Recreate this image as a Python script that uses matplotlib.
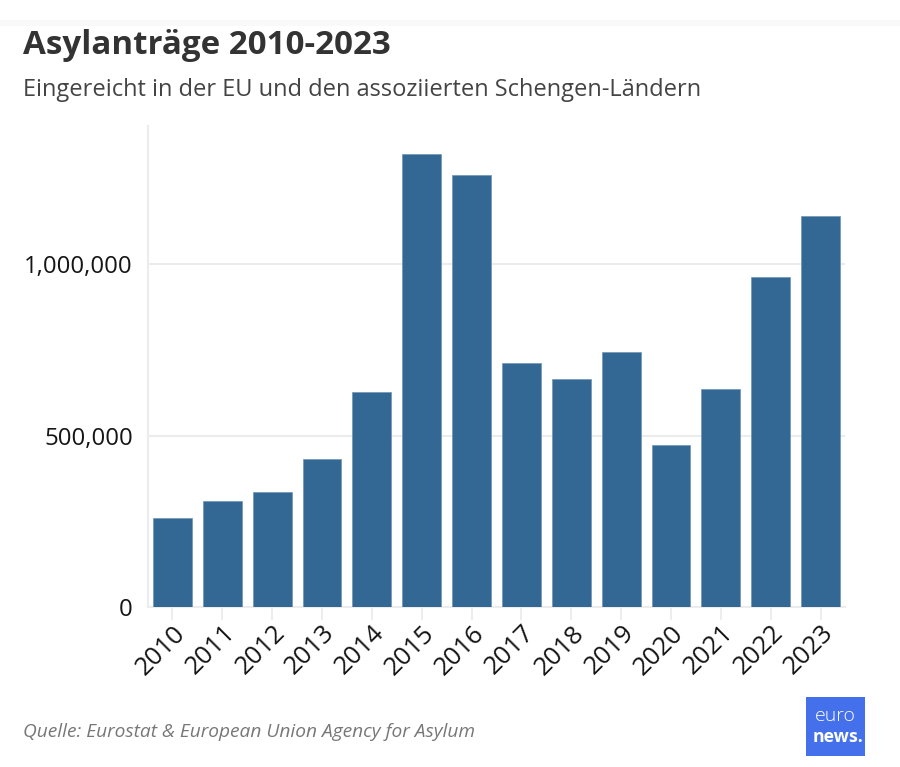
import matplotlib
matplotlib.use('Agg')
import matplotlib.pyplot as plt
from matplotlib.patches import Rectangle
from matplotlib.transforms import ScaledTranslation

years = ['2010', '2011', '2012', '2013', '2014', '2015', '2016',
         '2017', '2018', '2019', '2020', '2021', '2022', '2023']
applications = [260000, 309000, 335000, 431000, 627000, 1321000, 1259000,
                711000, 665000, 743000, 472000, 635000, 962000, 1140000]
y_ticks = [0, 500000, 1000000]
y_tick_labels = ['0', '500,000', '1,000,000']

W, H = 900, 767
plt.rcParams['font.family'] = ['Open Sans', 'DejaVu Sans']

fig = plt.figure(figsize=(W / 100, H / 100), dpi=100)

# plot area in pixels from the reference
left, right, top, bottom = 148, 845, 126, 607
ax = fig.add_axes([left / W, 1 - bottom / H, (right - left) / W, (bottom - top) / H])

ax.bar(range(len(years)), applications, width=0.78, color='#346894',
       edgecolor='#6f95b6', linewidth=0.5, zorder=3)

ax.set_xlim(-0.49, 13.49)
ax.set_ylim(0, (bottom - top) / 343 * 1000000)

ax.set_xticks(range(len(years)))
ax.set_xticklabels(years, rotation=45, ha='right', va='center', rotation_mode='anchor',
                   fontsize=18.5, color='#151515')
ax.set_yticks(y_ticks)
ax.set_yticklabels(y_tick_labels, fontsize=17.3, color='#151515')

ax.tick_params(axis='x', length=9, width=1.3, color='#ececec', pad=5)
ax.tick_params(axis='y', length=0, pad=11)

# nudge rotated year labels so they end just right of their ticks
nudge = ScaledTranslation(9 / 100, -3 / 100, fig.dpi_scale_trans)
for label in ax.get_xticklabels():
    label.set_transform(label.get_transform() + nudge)

ax.grid(axis='y', color='#ececec', linewidth=1.5, zorder=0)
for side in ['top', 'right']:
    ax.spines[side].set_visible(False)
for side in ['left', 'bottom']:
    ax.spines[side].set_color('#ececec')
    ax.spines[side].set_linewidth(1.5)

# faint band from the page header above the title
fig.add_artist(Rectangle((0, 1 - 26 / H), 1, 6 / H, transform=fig.transFigure,
                         facecolor='#f9f9f9', edgecolor='none'))

fig.text(23 / W, 1 - 46 / H, 'Asylanträge 2010-2023', fontsize=23.9, fontweight='bold',
         color='#333333', va='center', ha='left')
fig.text(23 / W, 1 - 90 / H, 'Eingereicht in der EU und den assoziierten Schengen-Ländern',
         fontsize=16.97, color='#444444', va='center', ha='left')
fig.text(23 / W, 1 - 732 / H, 'Quelle: Eurostat & European Union Agency for Asylum',
         fontsize=13.8, fontstyle='italic', color='#777777', va='center', ha='left')

# logo
fig.add_artist(Rectangle((806 / W, 1 - 756 / H), 59 / W, 59 / H, transform=fig.transFigure,
                         facecolor='#4470ec', edgecolor='none'))
fig.text(835 / W, 1 - 716 / H, 'euro', fontsize=14, fontweight='light', color='white',
         va='center', ha='center')
fig.text(838 / W, 1 - 737 / H, 'news.', fontsize=12.8, fontweight='bold', color='white',
         va='center', ha='center')

fig.savefig('out.png', dpi=100)
